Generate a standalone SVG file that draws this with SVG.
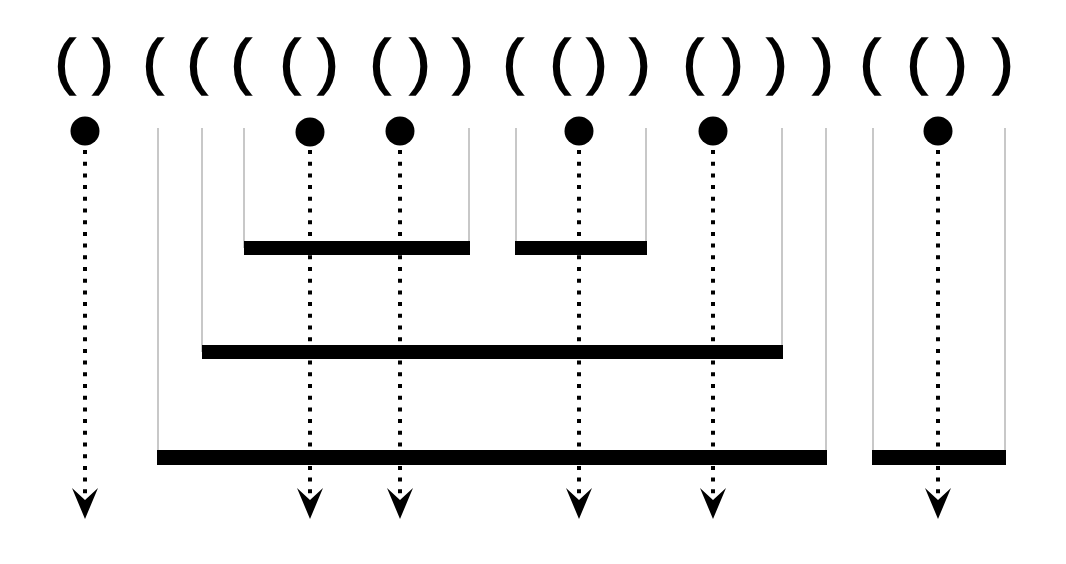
<svg xmlns="http://www.w3.org/2000/svg" width="1066" height="564" viewBox="0 0 1066 564">
<style>
.p{font-family:"Liberation Sans",Arial,sans-serif;font-size:62px;font-weight:normal;fill:#000;stroke:#000;stroke-width:1.6;text-anchor:middle}
.wall{stroke:#c8c8c8;stroke-width:2;fill:none}
.bar{fill:#000}
.dot{fill:#000}
.flow{stroke:#000;stroke-width:4;stroke-dasharray:4 7.7;fill:none}
.head{fill:#000}
</style>
<rect width="1066" height="564" fill="#fff"/>
<g id="parens">
<text class="p" x="65" y="82">(</text>
<text class="p" x="103" y="82">)</text>
<text class="p" x="153" y="82">(</text>
<text class="p" x="197" y="82">(</text>
<text class="p" x="241" y="82">(</text>
<text class="p" x="290" y="82">(</text>
<text class="p" x="328" y="82">)</text>
<text class="p" x="380" y="82">(</text>
<text class="p" x="420" y="82">)</text>
<text class="p" x="463" y="82">)</text>
<text class="p" x="513" y="82">(</text>
<text class="p" x="560" y="82">(</text>
<text class="p" x="597" y="82">)</text>
<text class="p" x="640" y="82">)</text>
<text class="p" x="693" y="82">(</text>
<text class="p" x="733" y="82">)</text>
<text class="p" x="777" y="82">)</text>
<text class="p" x="823" y="82">)</text>
<text class="p" x="870" y="82">(</text>
<text class="p" x="917" y="82">(</text>
<text class="p" x="957" y="82">)</text>
<text class="p" x="1003" y="82">)</text>
</g>
<g id="bracket-a">
<path class="wall" d="M244,128V248M469,128V248"/>
<rect class="bar" x="244" y="241" width="226" height="14"/>
</g>
<g id="bracket-b">
<path class="wall" d="M516,128V248M646,128V248"/>
<rect class="bar" x="515" y="241" width="132" height="14"/>
</g>
<g id="bracket-c">
<path class="wall" d="M202,128V352M782,128V352"/>
<rect class="bar" x="202" y="345" width="581" height="14"/>
</g>
<g id="bracket-d">
<path class="wall" d="M158,128V457M826,128V457"/>
<rect class="bar" x="157" y="450" width="670" height="15"/>
</g>
<g id="bracket-e">
<path class="wall" d="M873,128V457M1005,128V457"/>
<rect class="bar" x="872" y="450" width="134" height="15"/>
</g>
<g id="connectors">
<path class="flow" d="M85,150V500"/>
<path class="flow" d="M310,150V500"/>
<path class="flow" d="M400,150V500"/>
<path class="flow" d="M579,150V500"/>
<path class="flow" d="M713,150V500"/>
<path class="flow" d="M938,150V500"/>
<path class="head" d="M72,488L85,519L98,488L85,500Z"/>
<path class="head" d="M297,488L310,519L323,488L310,500Z"/>
<path class="head" d="M387,488L400,519L413,488L400,500Z"/>
<path class="head" d="M566,488L579,519L592,488L579,500Z"/>
<path class="head" d="M700,488L713,519L726,488L713,500Z"/>
<path class="head" d="M925,488L938,519L951,488L938,500Z"/>
</g>
<g id="leaves">
<circle class="dot" cx="85" cy="131" r="14.5"/>
<circle class="dot" cx="310" cy="132" r="14.5"/>
<circle class="dot" cx="400" cy="131" r="14.5"/>
<circle class="dot" cx="579" cy="131" r="14.5"/>
<circle class="dot" cx="713" cy="131" r="14.5"/>
<circle class="dot" cx="938" cy="131" r="14.5"/>
</g>
</svg>
